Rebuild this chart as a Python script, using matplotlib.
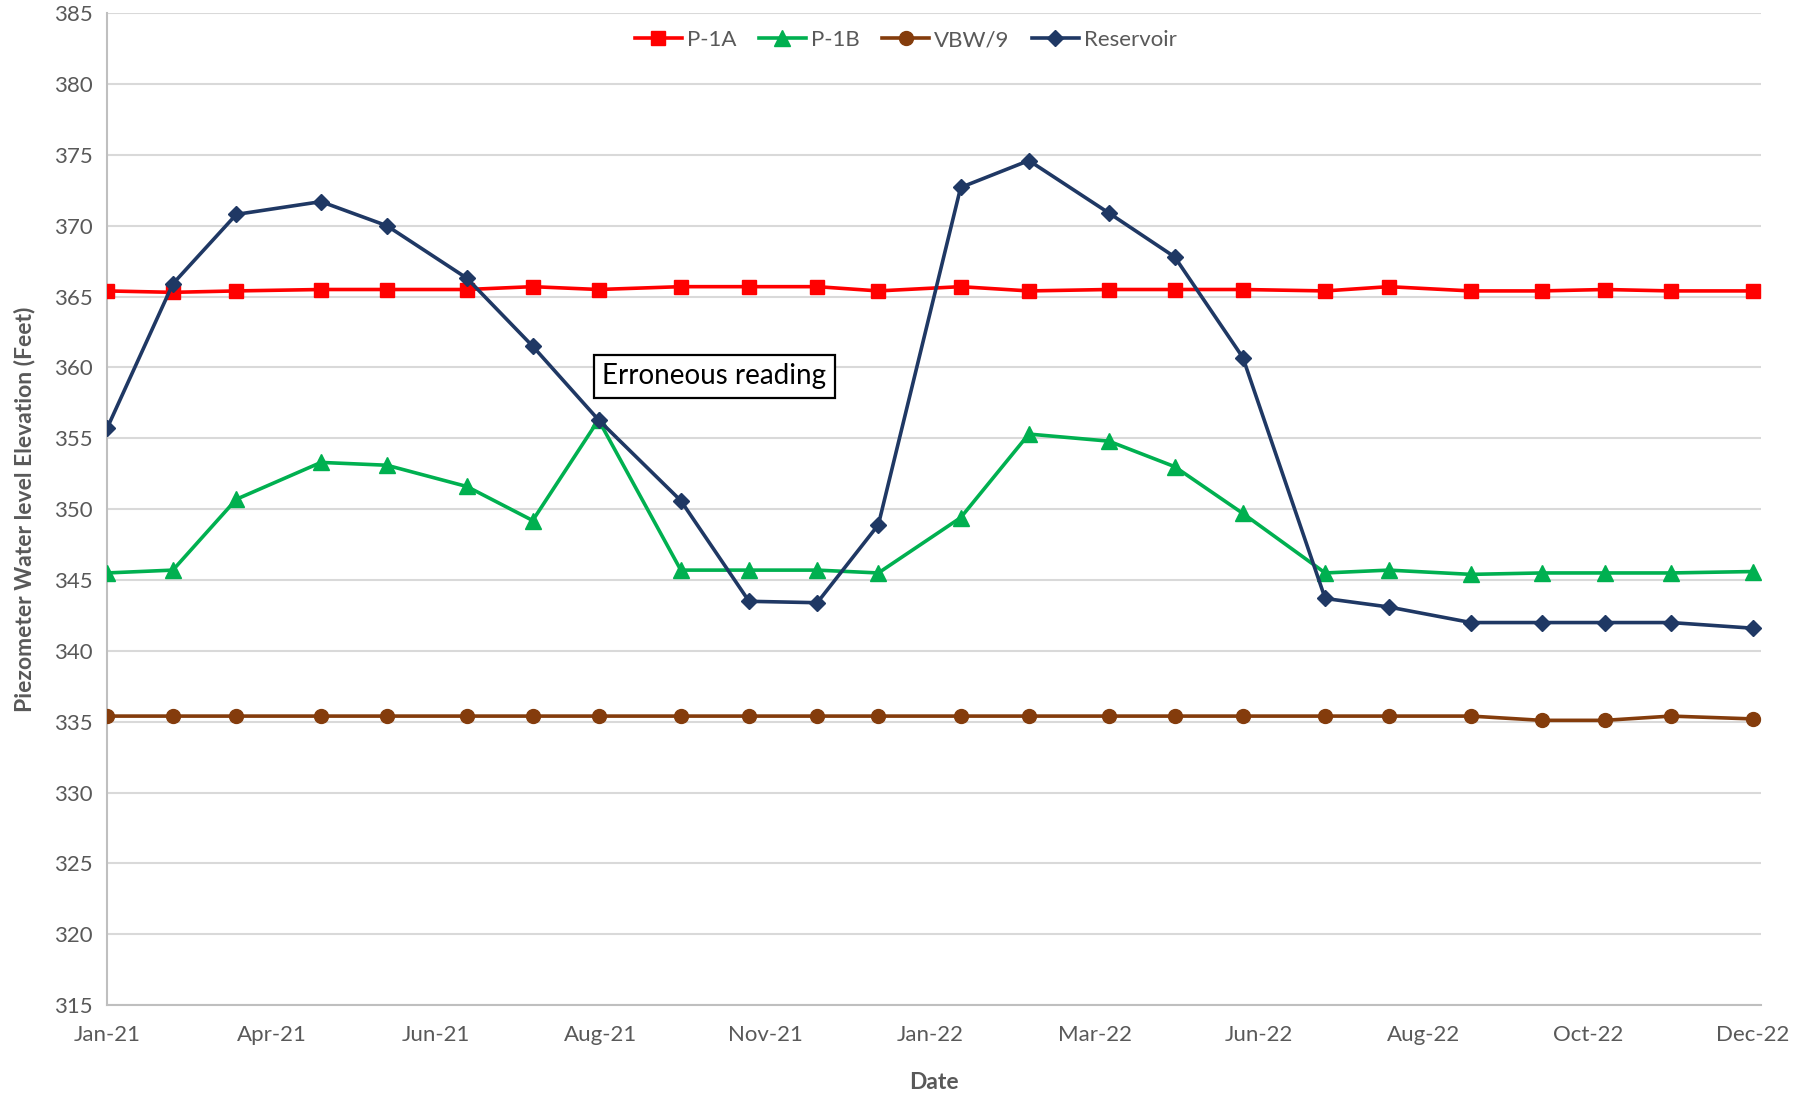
import matplotlib
matplotlib.use("Agg")
import matplotlib.pyplot as plt
import matplotlib.dates as mdates
import numpy as np
import datetime as dt

dates = ["2021-01-28", "2021-02-25", "2021-03-24", "2021-04-29", "2021-05-27", "2021-06-30",
         "2021-07-28", "2021-08-25", "2021-09-29", "2021-10-28", "2021-11-26", "2021-12-22",
         "2022-01-26", "2022-02-24", "2022-03-30", "2022-04-27", "2022-05-26", "2022-06-30",
         "2022-07-27", "2022-08-31", "2022-09-30", "2022-10-27", "2022-11-24", "2022-12-29"]

p1a = [365.4, 365.3, 365.4, 365.5, 365.5, 365.5, 365.7, 365.5, 365.7, 365.7, 365.7, 365.4,
       365.7, 365.4, 365.5, 365.5, 365.5, 365.4, 365.7, 365.4, 365.4, 365.5, 365.4, 365.4]
p1b = [345.5, 345.7, 350.7, 353.3, 353.1, 351.6, 349.2, 356.3, 345.7, 345.7, 345.7, 345.5,
       349.4, 355.3, 354.8, 353.0, 349.7, 345.5, 345.7, 345.4, 345.5, 345.5, 345.5, 345.6]
vbw9 = [335.4, 335.4, 335.4, 335.4, 335.4, 335.4, 335.4, 335.4, 335.4, 335.4, 335.4, 335.4,
        335.4, 335.4, 335.4, 335.4, 335.4, 335.4, 335.4, 335.4, 335.1, 335.1, 335.4, 335.2]
reservoir = [355.7, 365.9, 370.8, 371.7, 370.0, 366.3, 361.5, 356.3, 350.6, 343.5, 343.4, 348.9,
             372.7, 374.6, 370.9, 367.8, 360.7, 343.7, 343.1, 342.0, 342.0, 342.0, 342.0, 341.6]

tick_step_days = 70
n_ticks = 11

x = [dt.datetime.strptime(d, "%Y-%m-%d") for d in dates]

plt.rcParams['font.family'] = ['Lato', 'DejaVu Sans']
fig = plt.figure(figsize=(18.14, 10.95), dpi=100)
ax = fig.add_axes([0.059, 0.082, 0.912, 0.906])

ax.plot(x, p1a, color='#FF0000', lw=2.6, marker='s', ms=10, label='P-1A', zorder=3)
ax.plot(x, p1b, color='#00B050', lw=2.6, marker='^', ms=11, label='P-1B', zorder=3)
ax.plot(x, vbw9, color='#843C0C', lw=2.6, marker='o', ms=10, label='VBW/9', zorder=3)
ax.plot(x, reservoir, color='#1F3864', lw=2.6, marker='D', ms=8, label='Reservoir', zorder=4)

ticks = [x[0] + dt.timedelta(days=tick_step_days * k) for k in range(n_ticks)]
ax.set_xticks(ticks)
ax.xaxis.set_major_formatter(mdates.DateFormatter('%b-%y'))
ax.set_xlim(x[0], ticks[-1] + dt.timedelta(days=3.5))
ax.set_ylim(315, 385)
ax.set_yticks(np.arange(315, 386, 5))

ax.grid(axis='y', color='#D9D9D9', lw=1.5)
ax.set_axisbelow(True)
for s in ['top', 'right']:
    ax.spines[s].set_visible(False)
for s in ['left', 'bottom']:
    ax.spines[s].set_color('#BFBFBF')
    ax.spines[s].set_linewidth(1.5)
ax.tick_params(axis='y', length=0, labelsize=16, labelcolor='#595959', pad=10)
ax.tick_params(axis='x', length=0, labelsize=16, labelcolor='#595959', pad=14)

ax.set_ylabel('Piezometer Water level Elevation (Feet)', fontsize=16.5, fontweight='bold',
              color='#595959', labelpad=14)
ax.set_xlabel('Date', fontsize=16.5, fontweight='bold', color='#595959', labelpad=20)

leg = ax.legend(loc='upper center', bbox_to_anchor=(0.483, 1.003), ncol=4, frameon=False,
                fontsize=16, handlelength=2.1, columnspacing=1.0, handletextpad=0.25)
for t in leg.get_texts():
    t.set_color('#595959')

ax.text(0.367, 0.634, 'Erroneous reading', transform=ax.transAxes, fontsize=20,
        ha='center', va='center', color='black',
        bbox=dict(boxstyle='square,pad=0.3', facecolor='white', edgecolor='black', lw=1.6),
        zorder=5)

fig.savefig('out.png', dpi=100)
